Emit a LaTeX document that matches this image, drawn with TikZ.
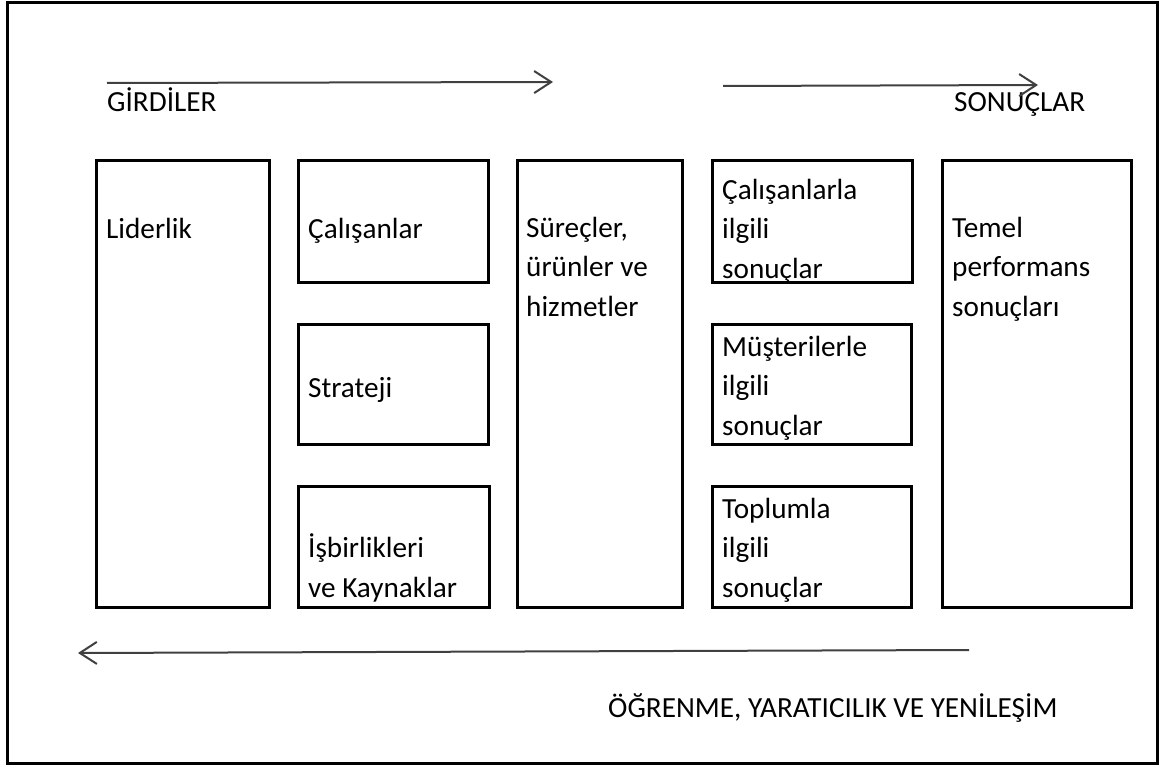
\documentclass[tikz,border=0pt]{standalone}
\usepackage{fontspec}
\setmainfont{Carlito}
\usetikzlibrary{arrows.meta}
\begin{document}
\begin{tikzpicture}[x=1pt,y=-1pt,
  boxst/.style={draw=black,line width=3pt},
  txt/.style={inner sep=0pt,anchor=base west,align=left,font=\fontsize{29.2}{39.5}\selectfont},
  arr/.style={draw=black!75,line width=2pt,-{Straight Barb[length=17pt,width=22pt]}}]
\useasboundingbox (0,0) rectangle (1160,765);
\draw[line width=3pt] (7,3) rectangle (1157,763);
% boxes
\draw[boxst] (96,161) rectangle (269,607);
\draw[boxst] (298,161) rectangle (488,282);
\draw[boxst] (298,324) rectangle (488,444);
\draw[boxst] (298,486) rectangle (489,607);
\draw[boxst] (517,161) rectangle (682,607);
\draw[boxst] (712,161) rectangle (912,282);
\draw[boxst] (712,324) rectangle (911,444);
\draw[boxst] (712,486) rectangle (911,607);
\draw[boxst] (942,161) rectangle (1131,607);
% texts (anchor at baseline of last line)
\node[txt] (liderlik) at (106,238) {Liderlik};
\node[txt] (calisanlar) at (308,238) {Çalışanlar};
\node[txt] (strateji) at (308,397) {Strateji};
\node[txt] (isbirlik) at (308,597) {İşbirlikleri\\ve Kaynaklar};
\node[txt] (surecler) at (526,316) {Süreçler,\\ürünler ve\\hizmetler};
\node[txt] (calilgili) at (722,278) {Çalışanlarla\\ilgili\\sonuçlar};
\node[txt] (musilgili) at (722,435) {Müşterilerle\\ilgili\\sonuçlar};
\node[txt] (topilgili) at (722,597) {Toplumla\\ilgili\\sonuçlar};
\node[txt] (temel) at (952,316) {Temel\\performans\\sonuçları};
\node[txt] (girdiler) at (107,112) {GİRDİLER};
\node[txt] (sonuclar) at (954,112) {SONUÇLAR};
\node[txt] (ogrenme) at (608,717) {ÖĞRENME, YARATICILIK VE YENİLEŞİM};
% arrows
\coordinate (a1s) at (107,83);
\coordinate (a1e) at (553,82);
\coordinate (a2s) at (723,86);
\coordinate (a2e) at (1038,85);
\coordinate (a3s) at (969,650);
\coordinate (a3e) at (78,653);
\draw[arr] (a1s) -- (a1e);
\draw[arr] (a2s) -- (a2e);
\draw[arr] (a3s) -- (a3e);
\end{tikzpicture}
\end{document}
